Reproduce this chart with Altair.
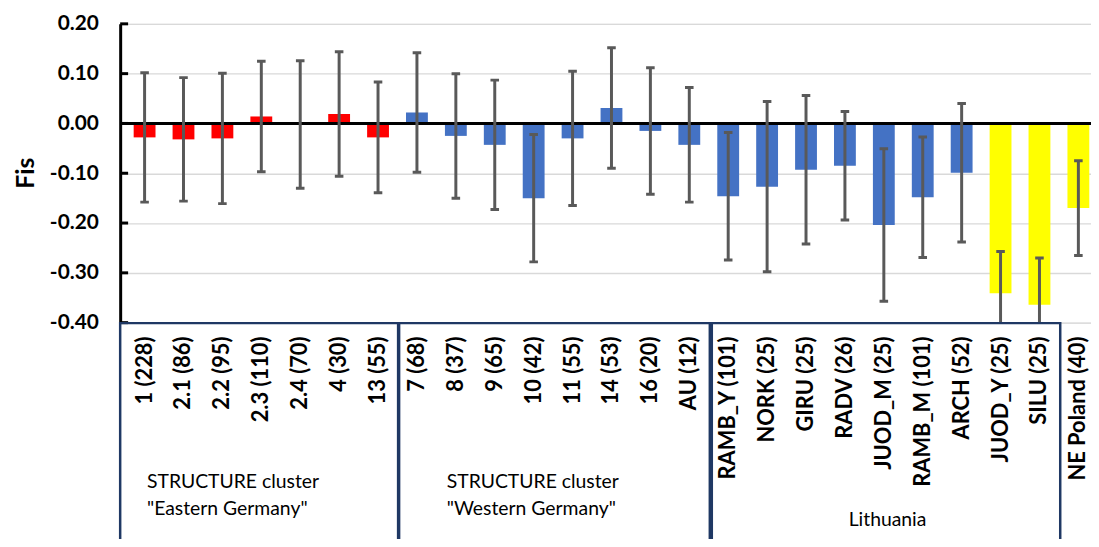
import altair as alt
import pandas as pd

categories = ["1 (228)", "2.1 (86)", "2.2 (95)", "2.3 (110)", "2.4 (70)", "4 (30)", "13 (55)",
              "7 (68)", "8 (37)", "9 (65)", "10 (42)", "11 (55)", "14 (53)", "16 (20)", "AU (12)",
              "RAMB_Y (101)", "NORK (25)", "GIRU (25)", "RADV (26)", "JUOD_M (25)", "RAMB_M (101)",
              "ARCH (52)", "JUOD_Y (25)", "SILU (25)", "NE  Poland (40)"]
fis = [-0.028, -0.032, -0.030, 0.014, -0.002, 0.019, -0.028,
       0.022, -0.025, -0.043, -0.150, -0.030, 0.031, -0.015, -0.043,
       -0.146, -0.127, -0.093, -0.085, -0.204, -0.148, -0.099, -0.341, -0.364, -0.170]
err = [0.130, 0.124, 0.131, 0.111, 0.128, 0.125, 0.111,
       0.120, 0.125, 0.130, 0.128, 0.135, 0.121, 0.127, 0.115,
       0.128, 0.171, 0.149, 0.109, 0.153, 0.121, 0.139, 0.084, 0.094, 0.095]
color_group = ["East"] * 7 + ["West"] * 15 + ["NE"] * 3
group_names = ["East", "West", "NE"]
group_colors = ["#FF0000", "#4472C4", "#FFFF00"]
y_ticks = [0.2, 0.1, 0.0, -0.1, -0.2, -0.3, -0.4]
box_labels = ['STRUCTURE cluster\n"Eastern Germany"', 'STRUCTURE cluster\n"Western Germany"', "Lithuania"]

df = pd.DataFrame({"idx": list(range(len(categories))), "cat": categories,
                   "fis": fis, "err": err, "grp": color_group})

FONT = "Lato"
x_scale = alt.Scale(domain=[-0.5, 24.197], nice=False, zero=False)
y_scale = alt.Scale(domain=[-0.4, 0.2], nice=False, zero=False)

base = alt.Chart(df)

label_expr = "datum.value < 0 ? '-' + format(-datum.value, '.2f') : format(datum.value, '.2f')"

bars = base.mark_bar(size=22).encode(
    x=alt.X("idx:Q", scale=x_scale, axis=None),
    y=alt.Y("fis:Q", scale=y_scale,
            axis=alt.Axis(values=y_ticks, grid=True, gridColor="#d9d9d9", gridWidth=1.3,
                          domainColor="black", domainWidth=3, ticks=False,
                          labelExpr=label_expr, labelFont=FONT, labelFontSize=21,
                          labelFontWeight="bold", labelColor="black", labelPadding=22,
                          title="Fis", titleFont=FONT, titleFontSize=25, titleFontWeight="bold",
                          titleColor="black", titleX=-95, titleY=150, titleAngle=270,
                          titleAlign="center", titleBaseline="middle")),
    y2=alt.datum(0),
    color=alt.Color("grp:N", scale=alt.Scale(domain=group_names, range=group_colors), legend=None),
)

zero_line = alt.Chart(pd.DataFrame({"z": [0]})).mark_rule(color="black", strokeWidth=3).encode(
    y=alt.datum(0)
)

ends = base.transform_calculate(lo="datum.fis - datum.err", hi="datum.fis + datum.err")

err_rule = ends.mark_rule(color="#595959", strokeWidth=3, clip=True).encode(
    x="idx:Q", y="lo:Q", y2="hi:Q"
)

caps = ends.transform_fold(["lo", "hi"], as_=["end", "val"]).transform_calculate(
    xl="datum.idx - 0.11", xr="datum.idx + 0.11"
).mark_rule(color="#595959", strokeWidth=3, clip=True).encode(
    x="xl:Q", x2="xr:Q", y="val:Q"
)

tick_stubs = alt.Chart(pd.DataFrame({"t": y_ticks})).mark_rule(color="black", strokeWidth=3).encode(
    y="t:Q", x=alt.value(0), x2=alt.value(8)
)

cat_labels = base.mark_text(angle=270, align="right", baseline="middle", font=FONT,
                            fontSize=22, fontWeight="bold", color="black").encode(
    x="idx:Q", y=alt.value(315), text="cat:N"
)

one = pd.DataFrame({"a": [0]})


def box(x0, x1):
    return alt.Chart(one).mark_rect(filled=False, stroke="#1F3864", strokeWidth=2.5).encode(
        x=alt.value(x0), x2=alt.value(x1), y=alt.value(301.5), y2=alt.value(560)
    )


def box_text(label, x, y, align):
    return alt.Chart(pd.DataFrame({"label": [label]})).mark_text(
        align=align, baseline="middle", lineBreak="\n", lineHeight=27,
        font=FONT, fontSize=19.5, color="black"
    ).encode(text="label:N", x=alt.value(x), y=alt.value(y))


chart = alt.layer(
    bars, zero_line, err_rule, caps, tick_stubs, cat_labels,
    box(0, 280), box(281, 594), box(596, 947),
    box_text(box_labels[0], 27, 462, "left"),
    box_text(box_labels[1], 329, 462, "left"),
    box_text(box_labels[2], 773, 500, "center"),
).properties(
    width=978, height=301,
    padding={"left": 113, "top": 14, "right": 0, "bottom": 216},
    autosize=alt.AutoSizeParams(type="none"),
).configure_view(stroke=None).configure(background="white")

chart.save("out.html", embed_options={"renderer": "svg", "actions": False})
